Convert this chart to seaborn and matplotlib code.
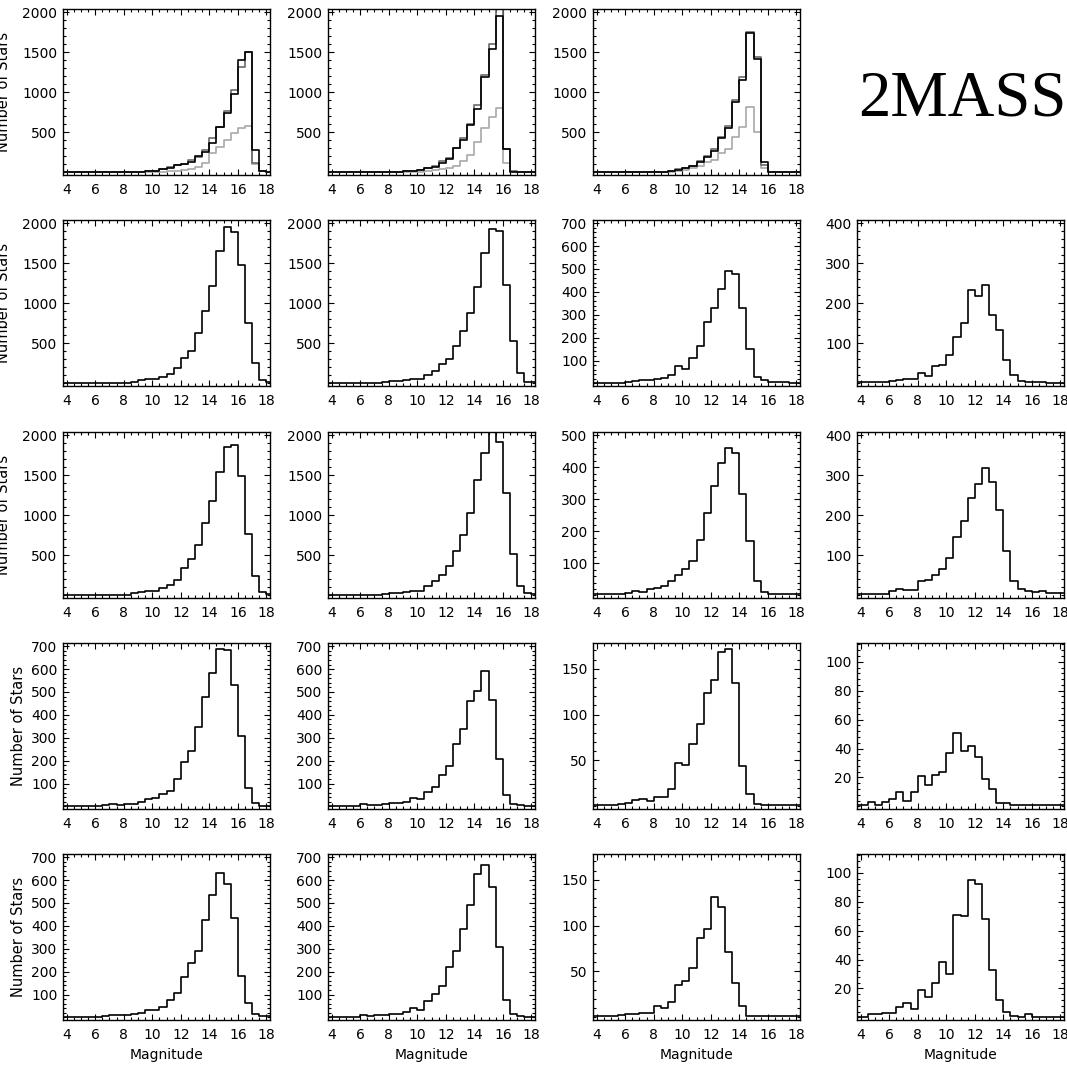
import numpy as np
import matplotlib
matplotlib.use("Agg")
import matplotlib.pyplot as plt
import seaborn as sns
from matplotlib.ticker import MultipleLocator, FixedLocator

sns.set_style("ticks")
plt.rcParams['font.family'] = ['DejaVu Sans']
plt.rcParams['text.color'] = 'black'
plt.rcParams['axes.labelcolor'] = 'black'

# magnitude bins (0.5 mag wide), centres 3.75 ... 18.25
mag_centers = np.arange(3.75, 18.26, 0.5)

# ---- row 1 : three overlaid histograms (black, dark grey, light grey)
r1c1_a = [0,0,0,0,1,1,2,2,3,5,6,8,12, 20,37,58,90,104,133,204,258,362,562,737,980,1400,1508,280,15,8]
r1c1_b = [0,0,0,0,1,1,2,2,3,5,6,8,12, 22,40,62,95,110,150,190,280,425,570,770,1030,1310,1500,115,12,8]
r1c1_c = [0,0,0,0,0,0,1,1,1,2,2,3,4, 5,8,12,18,25,45,70,120,237,320,404,487,558,583,105,12,6]

r1c2_a = [0,0,0,0,1,1,2,3,4,5,8,12,18, 25,53,73,122,164,300,404,590,797,1190,1543,1950,288,10,5,3,2]
r1c2_b = [0,0,0,0,1,1,2,3,4,5,8,12,18, 30,60,80,146,180,310,425,610,840,1215,1605,2060,290,12,5,3,2]
r1c2_c = [0,0,0,0,0,1,1,1,2,2,3,5,7, 10,18,25,40,60,85,137,220,385,560,694,806,115,10,4,2,1]

r1c3_a = [0,0,0,0,1,2,3,4,5,8,10,15,35, 55,75,133,196,270,425,558,880,1154,1738,1410,133,8,3,2,1,1]
r1c3_b = [0,0,0,0,1,2,3,4,5,8,10,15,38, 60,80,140,205,288,446,580,904,1188,1758,1440,95,8,3,2,1,1]
r1c3_c = [0,0,0,0,0,1,1,2,3,4,6,10,22, 35,55,75,133,154,237,292,446,562,812,508,50,8,2,1,1,0]

# ---- rows 2-5 : single histograms
r2c1 = [3,3,3,3,3,3,3,3,3,5,20,40,58,54,75,120,187,320,404,625,904,1220,1654,1950,1896,1480,750,258,42,12]
r2c2 = [3,3,3,3,3,3,3,3,15,25,30,38,58,50,104,150,246,308,467,658,883,1208,1633,1925,1904,1233,533,125,17,12]
r2c3 = [2,2,2,2,2,7,12,14,15,20,22,38,78,65,113,162,267,328,412,490,480,330,152,27,15,5,6,4,3,3]
r2c4 = [3,3,3,3,3,6,8,10,10,25,19,44,45,70,116,150,234,217,245,170,133,59,20,7,3,3,3,2,2,2]

r3c1 = [5,5,5,5,5,5,5,5,5,5,30,45,60,60,94,135,197,338,458,624,902,1184,1536,1847,1872,1495,765,247,45,20]
r3c2 = [5,5,5,5,5,5,5,5,20,28,32,44,61,61,114,176,251,363,549,756,1034,1441,1772,2100,1917,1283,520,114,32,20]
r3c3 = [3,3,3,3,3,7,14,11,19,24,28,45,64,81,107,174,257,342,412,459,443,316,169,45,11,4,4,3,3,3]
r3c4 = [4,4,4,4,4,11,16,14,14,35,39,51,67,94,145,187,244,279,318,283,214,112,35,16,10,9,10,6,5,5]

r4c1 = [2,2,2,2,2,2,5,10,8,12,12,19,34,36,52,69,118,196,244,347,476,581,688,685,532,309,81,15,3,2]
r4c2 = [3,3,3,3,3,9,7,7,9,13,13,20,36,32,64,83,138,177,274,336,460,503,590,463,208,49,10,5,3,3]
r4c3 = [1,1,1,2,3,4,7,8,6,10,10,19,47,45,68,90,124,138,168,171,134,44,13,3,1,1,1,1,1,1]
r4c4 = [1,1,3,1,3,5,10,4,10,21,15,22,24,37,51,38,42,34,19,12,2,2,1,1,1,1,1,1,1,1]

r5c1 = [2,2,2,2,2,2,5,9,9,10,16,18,32,31,45,74,105,178,239,291,424,534,632,582,434,183,61,14,6,4]
r5c2 = [3,3,3,3,3,9,6,9,11,14,16,25,40,34,71,104,136,219,291,388,492,625,664,570,309,78,14,6,3,3]
r5c3 = [1,1,1,2,3,4,4,5,5,12,10,17,35,40,54,86,96,131,120,71,37,12,2,1,1,1,1,1,1,1]
r5c4 = [0,0,2,2,3,3,7,10,6,19,14,24,38,30,71,70,95,92,68,33,12,4,1,0,2,0,0,0,0,0]

# y-axis tops and tick steps per panel
row_ytop = [[2040, 2040, 2040, None],
            [2040, 2040, 714, 408],
            [2040, 2040, 510, 408],
            [714, 714, 178, 113],
            [714, 714, 178, 113]]
row_ystep = [[500, 500, 500, None],
             [500, 500, 100, 100],
             [500, 500, 100, 100],
             [100, 100, 50, 20],
             [100, 100, 50, 20]]

panels = [
    [[r1c1_c, r1c1_b, r1c1_a], [r1c2_c, r1c2_b, r1c2_a], [r1c3_c, r1c3_b, r1c3_a], None],
    [[r2c1], [r2c2], [r2c3], [r2c4]],
    [[r3c1], [r3c2], [r3c3], [r3c4]],
    [[r4c1], [r4c2], [r4c3], [r4c4]],
    [[r5c1], [r5c2], [r5c3], [r5c4]],
]
multi_colors = ['#a8a8a8', '#6a6a6a', '#000000']

W, H = 1067, 1066
fig = plt.figure(figsize=(W / 100, H / 100), dpi=100)
col_left = [63, 328, 593, 857]
row_top = [9, 220, 432, 643, 854]
ax_w, ax_h = 207, 166

for r in range(5):
    for c in range(4):
        series = panels[r][c]
        if series is None:
            continue
        ax = fig.add_axes([col_left[c] / W, 1 - (row_top[r] + ax_h) / H, ax_w / W, ax_h / H])
        colors = multi_colors if len(series) == 3 else ['#000000']
        for vals, col in zip(series, colors):
            sns.histplot(x=list(mag_centers), weights=list(vals), binwidth=0.5,
                         binrange=(3.5, 18.5), element="step",
                         fill=False, color=col, linewidth=1.2, ax=ax)
        ytop = row_ytop[r][c]
        ystep = row_ystep[r][c]
        ax.set_xlim(3.75, 18.25)
        ax.set_ylim(-0.016 * ytop, ytop)
        ax.xaxis.set_major_locator(FixedLocator([4, 6, 8, 10, 12, 14, 16, 18]))
        ax.xaxis.set_minor_locator(MultipleLocator(0.5))
        ax.yaxis.set_major_locator(FixedLocator(list(range(ystep, int(ytop) + 1, ystep))))
        ax.yaxis.set_minor_locator(MultipleLocator(ystep / 5))
        ax.tick_params(which='both', direction='in', top=True, right=True,
                       width=0.8, colors='black')
        ax.tick_params(which='major', length=4.5, labelsize=10)
        ax.tick_params(which='minor', length=2.2)
        ax.tick_params(axis='x', pad=6)
        ax.tick_params(axis='y', pad=4)
        for s in ax.spines.values():
            s.set_linewidth(1.0)
            s.set_color('black')
        ax.set_xlabel('Magnitude' if r == 4 else '', fontsize=10)
        if c == 0:
            ax.set_ylabel('Number of Stars', fontsize=10.5,
                          labelpad=(8 if r < 3 else 4))
        else:
            ax.set_ylabel('')

fig.text(858 / W, 1 - 116 / H, "2MASS", fontsize=46.5, family=['Liberation Serif'],
         ha='left', va='baseline', color='black')

fig.savefig("out.png", dpi=100)
